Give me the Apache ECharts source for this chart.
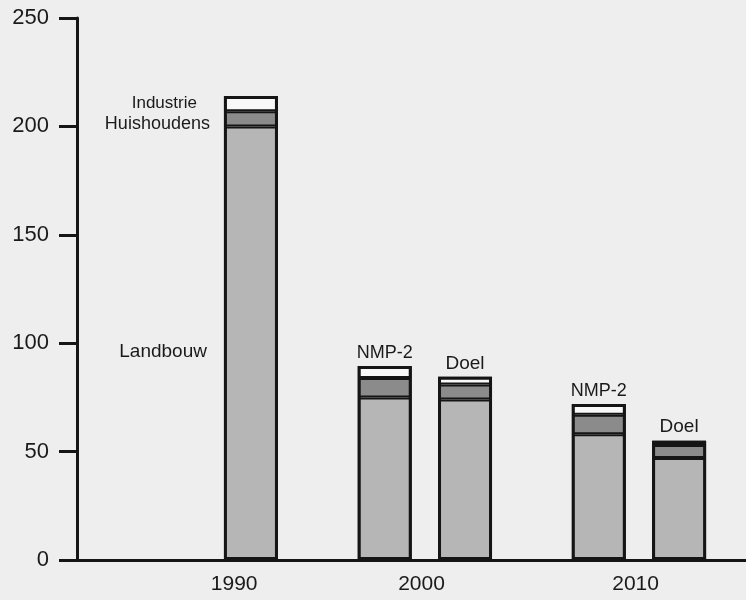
<!DOCTYPE html>
<html>
<head>
<meta charset="utf-8">
<script src="https://cdn.jsdelivr.net/npm/echarts@6/dist/echarts.min.js"></script>
<style>
    html, body { margin: 0; padding: 0; background: #eeeeee; }
    #chart { width: 746px; height: 600px; }
</style>
</head>
<body>
<div id="chart"></div>
<script>
// jaartallen op de x-as
var years = ['1990', '2000', '2010'];
// staven: 1990, dan NMP-2 en Doel voor 2000 en 2010
var barNames = ['1990', '2000 NMP-2', '2000 Doel', '2010 NMP-2', '2010 Doel'];
var barTags = ['', 'NMP-2', 'Doel', 'NMP-2', 'Doel'];
var landbouw = [200, 75, 74, 58, 47];
var huishoudens = [7, 9, 7, 9, 6];
var industrie = [7, 5.5, 3.5, 5, 2];
var yTicks = [0, 50, 100, 150, 200, 250];

// indeling van de x-as in vakjes (layout, geen data)
var nSlots = 25;
var barSlots = [6, 11, 14, 19, 22];
var yearSlots = [5, 12, 20];

var FONT = '"Liberation Sans", Arial, sans-serif';
var INK = '#151515';
var myChart = echarts.init(document.getElementById('chart'));

function slotData(values, labelFn) {
    var arr = [];
    for (var i = 0; i < nSlots; i++) arr.push(null);
    barSlots.forEach(function (s, k) {
        var item = { value: values[k], name: barNames[k] };
        if (labelFn) {
            var lb = labelFn(k);
            if (lb) item.label = lb;
        }
        arr[s] = item;
    });
    return arr;
}

var slotLabels = [];
for (var i = 0; i < nSlots; i++) slotLabels.push('');
yearSlots.forEach(function (s, k) { slotLabels[s] = years[k]; });

// totaal per staaf, alleen voor de omlijning
var totals = landbouw.map(function (v, k) { return v + huishoudens[k] + industrie[k]; });

var baseLabel = { show: false, fontFamily: FONT, fontSize: 18, color: '#1a1a1a' };

function barStyle(color) {
    // rand valt binnen de staaf, dus twee halve randen geven samen een scheidslijn
    return { color: color, borderColor: INK, borderWidth: 2 };
}

myChart.setOption({
    backgroundColor: '#eeeeee',
    animation: false,
    grid: { left: 77, right: 0, top: 18, bottom: 40, containLabel: false },
    xAxis: {
        type: 'category',
        data: slotLabels,
        boundaryGap: true,
        axisLine: { lineStyle: { color: INK, width: 3 } },
        axisTick: { show: false },
        axisLabel: {
            interval: 0, fontFamily: FONT, fontSize: 21, color: '#1a1a1a',
            margin: 14, padding: [0, 0, 0, 20]
        }
    },
    yAxis: {
        type: 'value',
        min: yTicks[0],
        max: yTicks[yTicks.length - 1],
        interval: yTicks[1] - yTicks[0],
        splitLine: { show: false },
        axisLine: { show: true, lineStyle: { color: INK, width: 3 } },
        axisTick: { show: true, length: 18, lineStyle: { color: INK, width: 3 } },
        axisLabel: { fontFamily: FONT, fontSize: 22, color: '#1a1a1a', margin: 28 }
    },
    series: [
        {
            name: 'Landbouw', type: 'bar', stack: 'totaal', barWidth: 54,
            itemStyle: barStyle('#b6b6b6'),
            label: baseLabel,
            data: slotData(landbouw, function (k) {
                if (k !== 0) return null;
                return { show: true, position: 'left', distance: 17, offset: [0, 9], fontSize: 19, formatter: 'Landbouw' };
            })
        },
        {
            name: 'Huishoudens', type: 'bar', stack: 'totaal', barWidth: 54,
            itemStyle: barStyle('#8b8b8b'),
            label: baseLabel,
            data: slotData(huishoudens, function (k) {
                if (k !== 0) return null;
                return { show: true, position: 'left', distance: 14, offset: [0, 5], formatter: 'Huishoudens' };
            })
        },
        {
            name: 'Industrie', type: 'bar', stack: 'totaal', barWidth: 54,
            itemStyle: barStyle('#f8f8f8'),
            label: baseLabel,
            data: slotData(industrie, function (k) {
                if (k === 0) {
                    return { show: true, position: 'left', distance: 27, fontSize: 17, formatter: 'Industrie' };
                }
                var fs = barTags[k] === 'Doel' ? 19 : 18;
                return { show: true, position: 'top', distance: 4, fontSize: fs, formatter: barTags[k] };
            })
        },
        {
            name: 'omlijning', type: 'bar', stack: 'rand', barWidth: 54, barGap: '-100%',
            itemStyle: { color: 'transparent', borderColor: INK, borderWidth: 3 },
            silent: true,
            data: slotData(totals)
        }
    ]
});
</script>
</body>
</html>
